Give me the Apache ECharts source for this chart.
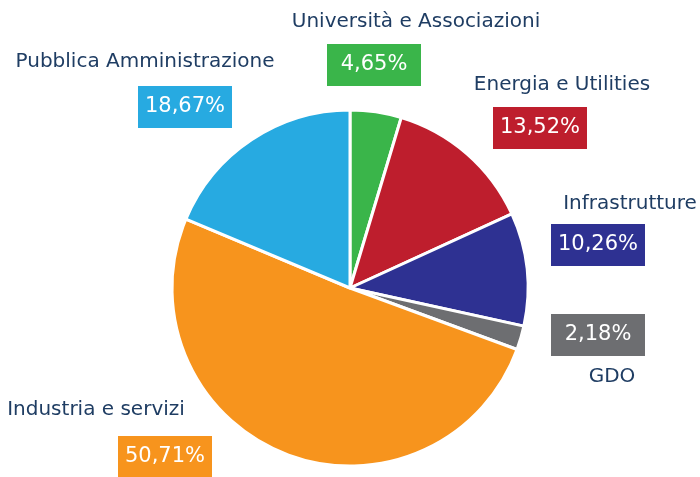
<!DOCTYPE html>
<html>
<head>
<meta charset="utf-8">
<script src="https://cdn.jsdelivr.net/npm/echarts@6/dist/echarts.min.js"></script>
<style>
  html, body { margin: 0; padding: 0; background: #ffffff; }
  #chart { width: 700px; height: 477px; }
</style>
</head>
<body>
<div id="chart"></div>
<script>
// Sector shares, clockwise from twelve o'clock
const categories = ['Università e Associazioni', 'Energia e Utilities', 'Infrastrutture', 'GDO', 'Industria e servizi', 'Pubblica Amministrazione'];
const shares = [4.65, 13.52, 10.26, 2.18, 50.71, 18.67];
const colors = ['#3ab54a', '#be1e2d', '#2e3192', '#6d6e71', '#f7941d', '#27aae1'];

// Label anchor points (centres) for the sector names and the value boxes
const namePos = [[416, 22], [562, 85], [630, 204], [612, 377], [96, 410], [145, 62]];
const boxPos = [[374, 65], [540, 128], [598, 245], [598, 335], [165, 457], [185, 107]];

const FONT = 'DejaVu Sans';
const center = [350, 288];
const radius = 178;

const fmtPct = v => v.toFixed(2).replace('.', ',') + '%';

const chart = echarts.init(document.getElementById('chart'), null, { renderer: 'canvas' });

chart.setOption({
  animation: false,
  series: [
    {
      name: 'Settori',
      type: 'pie',
      center: center,
      radius: radius,
      startAngle: 90,
      clockwise: true,
      avoidLabelOverlap: false,
      emphasis: { disabled: true },
      itemStyle: { borderColor: '#ffffff', borderWidth: 3 },
      label: {
        show: true,
        formatter: '{b}',
        color: '#1f3d63',
        fontFamily: FONT,
        fontSize: 20
      },
      labelLine: { show: false },
      labelLayout: p => ({
        x: namePos[p.dataIndex][0],
        y: namePos[p.dataIndex][1],
        align: 'center',
        verticalAlign: 'middle'
      }),
      data: categories.map((c, i) => ({ name: c, value: shares[i], itemStyle: { color: colors[i] } }))
    },
    {
      name: 'Quote',
      type: 'pie',
      center: center,
      radius: radius,
      startAngle: 90,
      clockwise: true,
      silent: true,
      avoidLabelOverlap: false,
      emphasis: { disabled: true },
      itemStyle: { color: 'rgba(0,0,0,0)' },
      label: {
        show: true,
        formatter: p => fmtPct(p.value),
        color: '#ffffff',
        fontFamily: FONT,
        fontSize: 21,
        width: 94,
        height: 42,
        lineHeight: 42,
        overflow: 'none',
        align: 'center',
        padding: 0
      },
      labelLine: { show: false },
      labelLayout: p => ({
        x: boxPos[p.dataIndex][0],
        y: boxPos[p.dataIndex][1],
        align: 'center',
        verticalAlign: 'middle'
      }),
      data: categories.map((c, i) => ({
        name: c,
        value: shares[i],
        label: { backgroundColor: colors[i] }
      }))
    }
  ]
});
</script>
</body>
</html>
